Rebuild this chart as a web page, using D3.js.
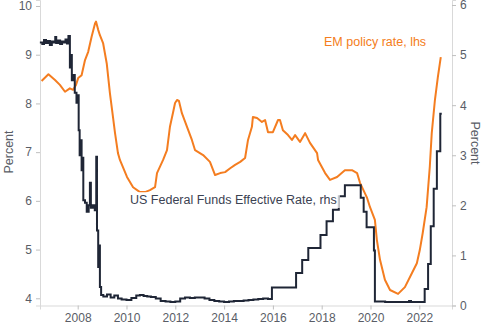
<!DOCTYPE html>
<html>
<head>
<meta charset="utf-8">
<script src="https://cdn.jsdelivr.net/npm/d3@7"></script>
<style>
  html, body { margin: 0; padding: 0; background: #ffffff; }
  svg { display: block; font-family: "Liberation Sans", Arial, sans-serif; }
</style>
</head>
<body>
<svg id="chart" width="488" height="331"></svg>
<script>
// EM policy rate (left axis, %)
const emYears = [2006.52, 2006.80, 2007.07, 2007.27, 2007.48, 2007.68, 2007.81, 2007.93, 2008.02, 2008.16,
  2008.30, 2008.43, 2008.57, 2008.71, 2008.75, 2008.84, 2008.91, 2009.04, 2009.19, 2009.32,
  2009.41, 2009.53, 2009.65, 2009.73, 2010.02, 2010.27, 2010.55, 2010.76, 2010.96, 2011.17,
  2011.25, 2011.50, 2011.66, 2011.78, 2011.91, 2011.99, 2012.07, 2012.15, 2012.27, 2012.48,
  2012.68, 2012.81, 2013.14, 2013.42, 2013.63, 2013.84, 2014.04, 2014.25, 2014.45, 2014.66,
  2014.86, 2014.98, 2015.14, 2015.18, 2015.35, 2015.55, 2015.68, 2015.80, 2016.00, 2016.21,
  2016.29, 2016.41, 2016.62, 2016.78, 2016.91, 2017.11, 2017.32, 2017.52, 2017.81, 2017.85,
  2018.14, 2018.34, 2018.63, 2018.95, 2019.24, 2019.45, 2019.57, 2019.86, 2019.98, 2020.18,
  2020.26, 2020.39, 2020.59, 2020.80, 2021.13, 2021.41, 2021.70, 2021.90, 2022.02, 2022.14,
  2022.30, 2022.43, 2022.51, 2022.64, 2022.76, 2022.88];
const emRates = [8.46, 8.60, 8.48, 8.38, 8.24, 8.31, 8.28, 8.38, 8.52, 8.58,
  8.89, 9.06, 9.37, 9.64, 9.68, 9.51, 9.40, 9.24, 8.82, 8.21,
  7.86, 7.39, 6.98, 6.84, 6.49, 6.28, 6.18, 6.18, 6.22, 6.28,
  6.57, 6.84, 7.04, 7.52, 7.82, 8.01, 8.07, 8.05, 7.80, 7.52,
  7.25, 7.04, 6.94, 6.80, 6.53, 6.57, 6.59, 6.67, 6.74, 6.80,
  6.88, 7.25, 7.52, 7.72, 7.70, 7.62, 7.66, 7.41, 7.41, 7.66,
  7.66, 7.45, 7.35, 7.25, 7.35, 7.21, 7.39, 7.19, 6.98, 6.84,
  6.57, 6.43, 6.49, 6.63, 6.63, 6.57, 6.37, 6.06, 5.87, 5.61,
  5.20, 4.79, 4.38, 4.17, 4.09, 4.23, 4.52, 4.72, 4.99, 5.34,
  5.87, 6.70, 7.39, 8.07, 8.54, 8.95];

// US Federal Funds Effective Rate (right axis, %)
const fedYears = [2006.45, 2006.55, 2006.62, 2006.70, 2006.78, 2006.86, 2006.94, 2007.02, 2007.08, 2007.12,
  2007.20, 2007.28, 2007.36, 2007.44, 2007.50, 2007.56, 2007.62, 2007.68, 2007.72, 2007.76,
  2007.84, 2007.88, 2007.95, 2008.00, 2008.04, 2008.08, 2008.12, 2008.16, 2008.20, 2008.23,
  2008.30, 2008.37, 2008.45, 2008.50, 2008.54, 2008.62, 2008.70, 2008.76, 2008.79, 2008.84,
  2008.88, 2008.91, 2008.96, 2009.05, 2009.20, 2009.35, 2009.50, 2009.65, 2009.80, 2010.00,
  2010.20, 2010.40, 2010.55, 2010.70, 2010.85, 2011.00, 2011.20, 2011.40, 2011.60, 2011.80,
  2012.00, 2012.20, 2012.40, 2012.60, 2012.80, 2013.00, 2013.20, 2013.40, 2013.60, 2013.80,
  2014.00, 2014.20, 2014.40, 2014.60, 2014.80, 2015.00, 2015.20, 2015.40, 2015.60, 2015.80,
  2015.96, 2016.95, 2017.20, 2017.45, 2017.95, 2018.20, 2018.46, 2018.70, 2018.95, 2019.60,
  2019.72, 2019.84, 2020.14, 2020.18, 2020.60, 2021.10, 2021.58, 2021.66, 2022.22, 2022.36,
  2022.47, 2022.59, 2022.72, 2022.86, 2022.92];
const fedRates = [5.25, 5.22, 5.30, 5.24, 5.28, 5.20, 5.27, 5.25, 5.36, 5.24,
  5.29, 5.22, 5.27, 5.25, 5.31, 5.23, 5.38, 4.75, 5.00, 4.50,
  4.60, 4.25, 4.05, 4.20, 3.50, 3.00, 3.30, 2.70, 2.95, 2.10,
  2.05, 1.87, 2.00, 2.45, 1.95, 2.00, 1.90, 2.97, 1.50, 0.77,
  1.20, 0.37, 0.21, 0.18, 0.22, 0.16, 0.20, 0.14, 0.12, 0.11,
  0.15, 0.20, 0.21, 0.19, 0.18, 0.17, 0.14, 0.09, 0.08, 0.07,
  0.08, 0.14, 0.16, 0.15, 0.16, 0.16, 0.14, 0.11, 0.09, 0.08,
  0.07, 0.08, 0.09, 0.09, 0.10, 0.11, 0.12, 0.13, 0.14, 0.13,
  0.36, 0.65, 0.91, 1.15, 1.41, 1.68, 1.91, 2.18, 2.40, 2.15,
  1.87, 1.56, 1.10, 0.08, 0.07, 0.07, 0.09, 0.07, 0.33, 0.83,
  1.58, 2.33, 3.08, 3.83, 3.83];

const xTicks = [2008, 2010, 2012, 2014, 2016, 2018, 2020, 2022];
const leftTicks = [4, 5, 6, 7, 8, 9, 10];
const rightTicks = [0, 1, 2, 3, 4, 5, 6];

const emLabel = "EM policy rate, lhs";
const fedLabel = "US Federal Funds Effective Rate, rhs";
const axisTitle = "Percent";

(function draw() {
  const ORANGE = "#f47d20";
  const NAVY = "#1f2636";
  const AXIS = "#d9d9d9";
  const TEXT = "#595d66";

  const svg = d3.select("#chart");
  const pLeft = 40, pRight = 452, pTop = 0, pBottom = 305.5;

  const x = d3.scaleLinear().domain([2006.455, 2023.34]).range([pLeft, pRight]);
  const yL = d3.scaleLinear().domain([3.852, 10.123]).range([pBottom, pTop]);
  const yR = d3.scaleLinear().domain([0, 6.1]).range([pBottom, pTop]);

  function styleAxis(g) {
    g.select(".domain").attr("stroke", AXIS).attr("stroke-width", 1);
    g.selectAll(".tick line").attr("stroke", "#bfbfbf");
    g.selectAll(".tick text").attr("fill", TEXT).style("font-size", "12px")
      .style("font-family", '"Liberation Sans", Arial, sans-serif');
  }

  svg.append("g").attr("transform", `translate(0,${pBottom})`)
    .call(d3.axisBottom(x).tickValues(xTicks).tickFormat(d3.format("d")).tickSizeOuter(0).tickSize(4).tickPadding(4))
    .call(styleAxis);

  svg.append("g").attr("transform", `translate(${pLeft},0)`)
    .call(d3.axisLeft(yL).tickValues(leftTicks).tickFormat(d3.format("d")).tickSizeOuter(0).tickSize(4).tickPadding(4))
    .call(styleAxis);

  svg.append("g").attr("transform", `translate(${pRight},0)`)
    .call(d3.axisRight(yR).tickValues(rightTicks).tickFormat(d3.format("d")).tickSizeOuter(0).tickSize(4).tickPadding(4))
    .call(styleAxis);

  // axis titles
  svg.append("text").attr("transform", "translate(13,152) rotate(-90)")
    .attr("text-anchor", "middle").attr("fill", TEXT).style("font-size", "12.5px").text(axisTitle);
  svg.append("text").attr("transform", "translate(471,143) rotate(90)")
    .attr("text-anchor", "middle").attr("fill", TEXT).style("font-size", "12.5px").text(axisTitle);

  // EM line
  const emData = emYears.map((t, i) => [t, emRates[i]]);
  svg.append("path").datum(emData)
    .attr("fill", "none").attr("stroke", ORANGE).attr("stroke-width", 2).attr("stroke-linejoin", "round")
    .attr("d", d3.line().x(d => x(d[0])).y(d => yL(d[1])).curve(d3.curveLinear));

  // Fed line
  const fedData = fedYears.map((t, i) => [t, fedRates[i]]);
  svg.append("path").datum(fedData)
    .attr("fill", "none").attr("stroke", NAVY).attr("stroke-width", 2)
    .attr("d", d3.line().x(d => x(d[0])).y(d => yR(d[1])).curve(d3.curveStepAfter));

  // labels
  svg.append("text").attr("x", 324).attr("y", 46).attr("fill", ORANGE)
    .style("font-size", "12.5px").text(emLabel);

  const boxG = svg.append("g");
  const fedText = svg.append("text").attr("x", 130).attr("y", 204).attr("fill", "#3b4252")
    .style("font-size", "12.5px").text(fedLabel);
  const bb = fedText.node().getBBox();
  boxG.append("rect")
    .attr("x", bb.x - 3).attr("y", bb.y - 1).attr("width", bb.width + 6).attr("height", bb.height + 2)
    .attr("fill", "#ffffff").attr("fill-opacity", 0.75);
})();
</script>
</body>
</html>
